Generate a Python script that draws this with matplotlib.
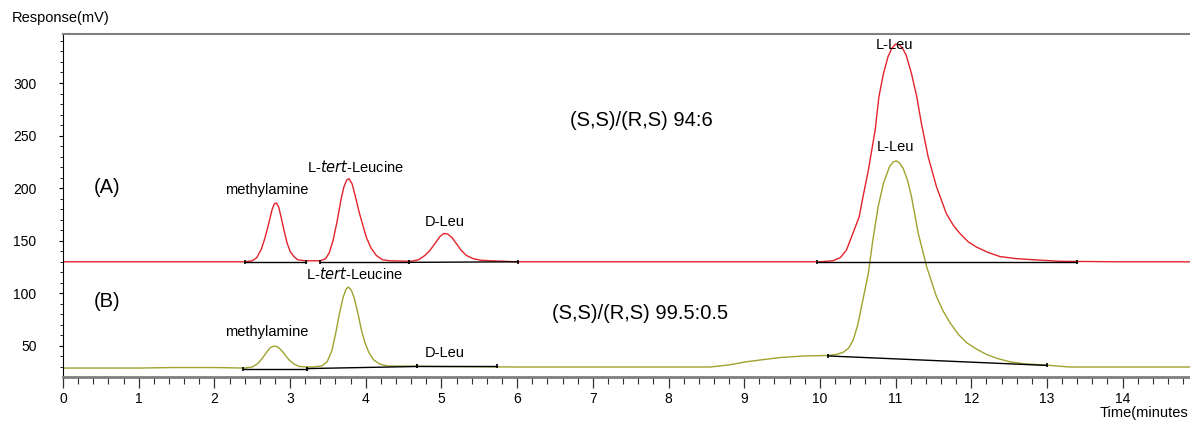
import matplotlib.pyplot as plt
from matplotlib.ticker import MultipleLocator

plt.rcParams['font.family'] = ['Liberation Sans', 'DejaVu Sans']

# chromatogram (A), red trace: time (min) / response (mV)
time_a = [0.0, 1.0, 2.0, 2.40, 2.50, 2.56, 2.62, 2.67, 2.72, 2.76, 2.79, 2.82,
          2.85, 2.88, 2.92, 2.96, 3.00, 3.05, 3.10, 3.20,
          3.40, 3.47, 3.52, 3.57, 3.62, 3.67, 3.71, 3.75, 3.78, 3.82, 3.86,
          3.91, 3.96, 4.01, 4.07, 4.14, 4.22, 4.32,
          4.60, 4.70, 4.78, 4.85, 4.92, 4.98, 5.03, 5.08, 5.14, 5.20, 5.26,
          5.33, 5.42, 5.52, 5.65, 6.0, 8.0,
          10.0, 10.17, 10.27, 10.35, 10.42, 10.52, 10.57, 10.64, 10.73, 10.78,
          10.84, 10.90, 10.95, 11.00, 11.05, 11.10, 11.14, 11.21, 11.28, 11.34,
          11.43, 11.54, 11.67, 11.76, 11.85, 11.96, 12.07, 12.22, 12.38, 12.60,
          12.82, 13.17, 14.0, 14.9]
resp_a = [130, 130, 130, 130, 131, 134, 142, 153, 167, 179, 185, 186,
          182, 173, 160, 148, 140, 135, 132, 131,
          131, 133, 139, 151, 168, 188, 201, 208, 209, 204, 193,
          178, 165, 153, 143, 136, 132, 131,
          130.5, 132, 136, 141, 148, 154, 157, 156.5, 153, 147, 141,
          136, 133, 131.5, 131, 130, 130,
          130, 131, 134, 141, 154, 173, 192, 217, 255, 287,
          309, 325, 333, 337, 336.5, 332, 326.5, 309, 287, 262,
          230, 201.5, 176, 165, 157, 149, 144, 139, 135, 133,
          132, 130.5, 130, 130]

# chromatogram (B), olive trace
time_b = [0.0, 1.0, 1.45, 2.0, 2.40, 2.50, 2.57, 2.63, 2.69, 2.74, 2.79, 2.84,
          2.89, 2.94, 2.99, 3.05, 3.12, 3.25,
          3.30, 3.42, 3.49, 3.55, 3.60, 3.65, 3.70, 3.74, 3.77, 3.81, 3.85,
          3.90, 3.94, 3.99, 4.04, 4.10, 4.18, 4.28, 5.0, 6.0, 8.0,
          8.55, 8.80, 9.03, 9.25, 9.47, 9.80,
          10.11, 10.22, 10.31, 10.38, 10.44, 10.50, 10.55, 10.64, 10.70, 10.77,
          10.84, 10.92, 10.97, 11.01, 11.05, 11.10, 11.16, 11.21, 11.30, 11.41,
          11.54, 11.63, 11.72, 11.83, 11.94, 12.07, 12.20, 12.35, 12.51, 12.70,
          12.95, 13.30, 14.0, 14.9]
resp_b = [29, 29, 29.5, 29.5, 29, 30, 33, 38, 44, 48.5, 50, 49,
          45.5, 41, 36.5, 33, 30.5, 30,
          30, 31, 35, 45, 61, 80, 96, 104, 106, 103, 95,
          80, 66, 53, 44, 37, 33, 31, 30.5, 30, 30,
          30, 32, 35, 37, 39, 40.5,
          41, 42, 44, 48, 55.7, 70, 87.4, 119, 150.8, 182.5,
          204.7, 220.5, 225, 226, 224, 219, 207, 192, 157, 125.5,
          97, 83, 72, 61, 53, 47, 42, 38, 35, 33,
          32, 30, 30, 30]

# integration baselines drawn by the data system: start/end time and response
base_a_t = [(2.40, 3.21), (3.40, 4.57), (4.57, 6.01), (9.96, 13.40)]
base_a_y = [(129.5, 129.5), (129.5, 129.5), (129.5, 130.0), (129.5, 129.5)]
base_b_t = [(2.38, 3.22), (3.22, 4.68), (4.68, 5.74), (10.11, 13.0)]
base_b_y = [(28.5, 28.5), (28.5, 30.5), (30.5, 30.5), (40.5, 31.5)]

fig = plt.figure(figsize=(11.9, 4.24), dpi=100)
ax = fig.add_axes([63 / 1190, 1 - 377 / 424, 1127 / 1190, 343 / 424])

red = '#e3232b'
olive = '#9fa22c'
ax.plot(time_a, resp_a, color=red, lw=1.0)
ax.plot(time_b, resp_b, color=olive, lw=1.0)

for (t0, t1), (y0, y1) in zip(base_a_t + base_b_t, base_a_y + base_b_y):
    ax.plot([t0, t1], [y0, y1], color='black', lw=1.0)
    ax.plot([t0, t1], [y0, y1], ls='none', marker='|', ms=3, mew=1.2,
            color='black')

ax.set_xlim(0, 14.89)
ax.set_ylim(20.5, 346.6)

ax.spines['right'].set_visible(False)
ax.spines['top'].set_color('#7f7f7f')
ax.spines['top'].set_linewidth(1.5)
ax.spines['bottom'].set_color('#7f7f7f')
ax.spines['bottom'].set_linewidth(2.0)
ax.spines['left'].set_linewidth(0.8)

ax.set_yticks([50, 100, 150, 200, 250, 300])
ax.yaxis.set_minor_locator(MultipleLocator(10))
ax.xaxis.set_major_locator(MultipleLocator(1))
ax.xaxis.set_minor_locator(MultipleLocator(0.2))
ax.tick_params(axis='y', which='major', length=3, width=0.8, pad=16,
               labelsize=10)
ax.tick_params(axis='y', which='minor', length=2, width=0.6)
ax.tick_params(axis='x', which='major', length=8, width=0.9, pad=3,
               labelsize=10, color='#333333')
ax.tick_params(axis='x', which='minor', length=5, width=0.8,
               color='#333333')

# peak labels
fs = 10.5
ax.text(2.69, 198.3, 'methylamine', ha='center', va='center', fontsize=fs)
ax.text(3.87, 220.4, r'L-$\it{tert}$-Leucine', ha='center', va='center',
        fontsize=fs)
ax.text(5.04, 168, 'D-Leu', ha='center', va='center', fontsize=fs)
ax.text(10.99, 336, 'L-Leu', ha='center', va='center', fontsize=fs)
ax.text(3.85, 118.4, r'L-$\it{tert}$-Leucine', ha='center', va='center',
        fontsize=fs)
ax.text(2.69, 63, 'methylamine', ha='center', va='center', fontsize=fs)
ax.text(5.04, 43, 'D-Leu', ha='center', va='center', fontsize=fs)
ax.text(11.0, 239.4, 'L-Leu', ha='center', va='center', fontsize=fs)

ax.text(0.58, 201, '(A)', ha='center', va='center', fontsize=14.5)
ax.text(0.58, 92, '(B)', ha='center', va='center', fontsize=14.5)
ax.text(7.64, 264.8, '(S,S)/(R,S) 94:6', ha='center', va='center',
        fontsize=14.5)
ax.text(7.63, 81, '(S,S)/(R,S) 99.5:0.5', ha='center', va='center',
        fontsize=14.5)

fig.text(12 / 1190, 1 - 18 / 424, 'Response(mV)', ha='left', va='center',
         fontsize=10.5)
fig.text(1100 / 1190, 1 - 413 / 424, 'Time(minutes', ha='left', va='center',
         fontsize=10.5)

fig.savefig('out.png', dpi=100)
